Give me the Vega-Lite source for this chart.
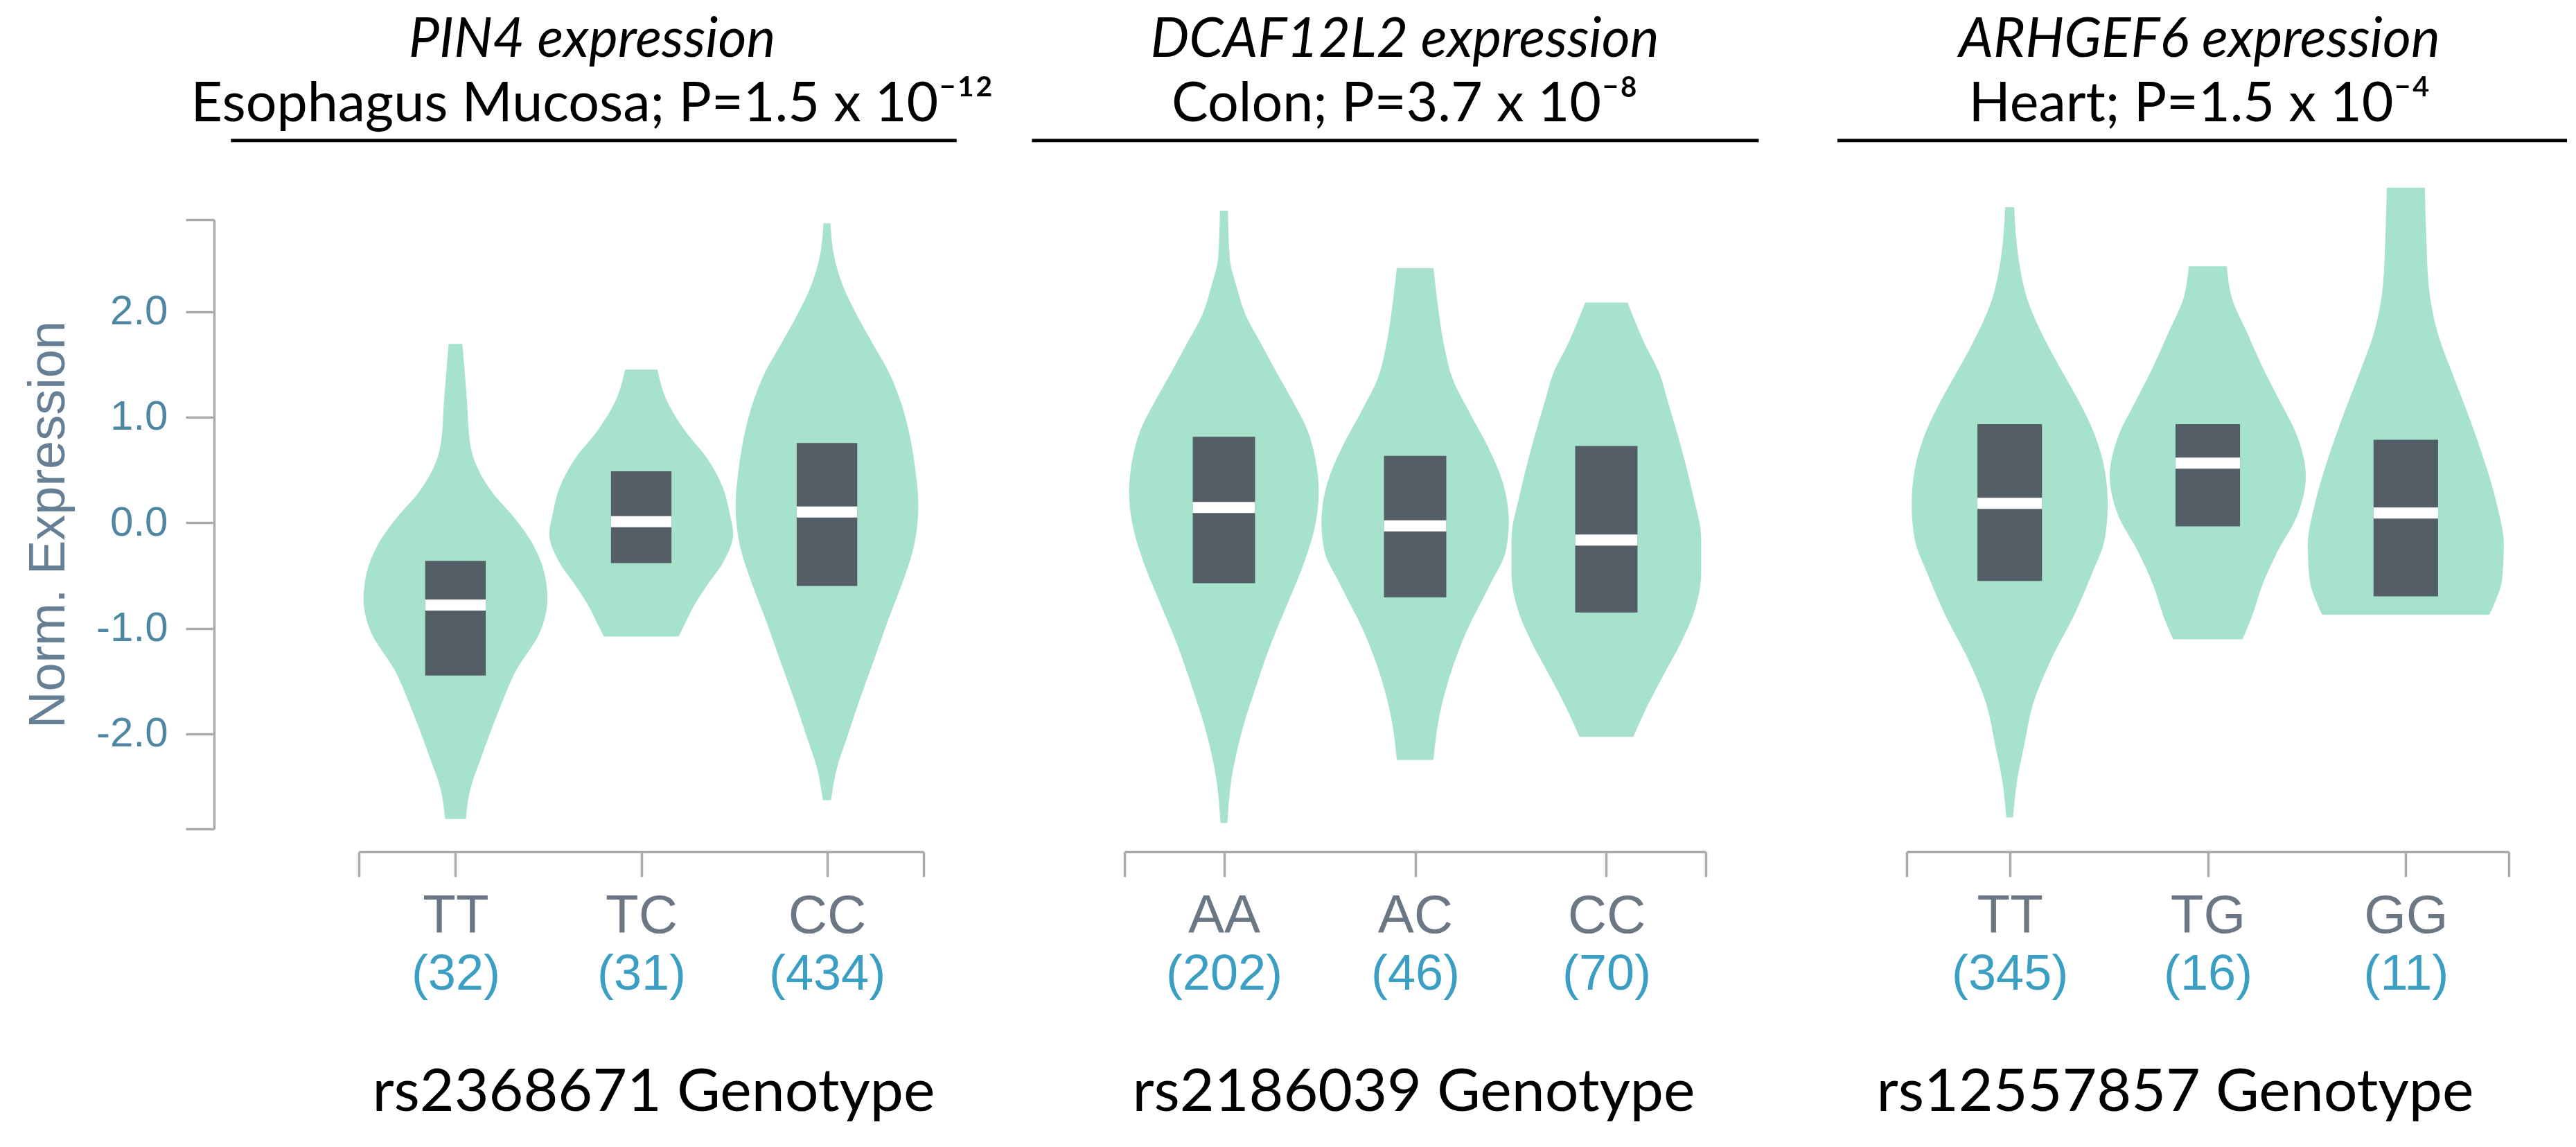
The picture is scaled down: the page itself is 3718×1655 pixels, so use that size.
{
  "$schema": "https://vega.github.io/schema/vega-lite/v6.json",
  "background": "white",
  "padding": {"left": 33, "top": 19, "right": 0, "bottom": 0},
  "autosize": {"type": "pad"},
  "bounds": "flush",
  "spacing": 290,
  "config": {"view": {"stroke": null}, "axis": {"grid": false}},
  "datasets": {
    "v1": [
      {"g":0,"v":1.694,"lo":-0.037,"hi":0.037},{"g":0,"v":1.151,"lo":-0.062,"hi":0.062},{"g":0,"v":0.770,"lo":-0.077,"hi":0.077},{"g":0,"v":0.498,"lo":-0.124,"hi":0.124},{"g":0,"v":0.281,"lo":-0.201,"hi":0.201},{"g":0,"v":0.063,"lo":-0.309,"hi":0.309},{"g":0,"v":-0.208,"lo":-0.418,"hi":0.418},{"g":0,"v":-0.480,"lo":-0.479,"hi":0.479},{"g":0,"v":-0.725,"lo":-0.495,"hi":0.495},{"g":0,"v":-1.024,"lo":-0.458,"hi":0.458},{"g":0,"v":-1.404,"lo":-0.325,"hi":0.325},{"g":0,"v":-1.785,"lo":-0.232,"hi":0.232},{"g":0,"v":-2.220,"lo":-0.139,"hi":0.139},{"g":0,"v":-2.546,"lo":-0.077,"hi":0.077},{"g":0,"v":-2.807,"lo":-0.056,"hi":0.056},
      {"g":1,"v":1.450,"lo":0.913,"hi":1.087},{"g":1,"v":1.151,"lo":0.861,"hi":1.139},{"g":1,"v":0.879,"lo":0.768,"hi":1.232},{"g":1,"v":0.607,"lo":0.644,"hi":1.356},{"g":1,"v":0.335,"lo":0.561,"hi":1.439},{"g":1,"v":0.063,"lo":0.521,"hi":1.479},{"g":1,"v":-0.100,"lo":0.505,"hi":1.495},{"g":1,"v":-0.372,"lo":0.558,"hi":1.442},{"g":1,"v":-0.589,"lo":0.644,"hi":1.356},{"g":1,"v":-0.806,"lo":0.722,"hi":1.278},{"g":1,"v":-0.970,"lo":0.768,"hi":1.232},{"g":1,"v":-1.078,"lo":0.799,"hi":1.201},
      {"g":2,"v":2.836,"lo":1.981,"hi":2.019},{"g":2,"v":2.510,"lo":1.960,"hi":2.040},{"g":2,"v":2.238,"lo":1.913,"hi":2.087},{"g":2,"v":1.966,"lo":1.839,"hi":2.161},{"g":2,"v":1.694,"lo":1.753,"hi":2.247},{"g":2,"v":1.422,"lo":1.666,"hi":2.334},{"g":2,"v":1.151,"lo":1.604,"hi":2.396},{"g":2,"v":0.879,"lo":1.561,"hi":2.439},{"g":2,"v":0.498,"lo":1.524,"hi":2.476},{"g":2,"v":0.172,"lo":1.508,"hi":2.492},{"g":2,"v":-0.208,"lo":1.530,"hi":2.470},{"g":2,"v":-0.480,"lo":1.576,"hi":2.424},{"g":2,"v":-0.915,"lo":1.669,"hi":2.331},{"g":2,"v":-1.296,"lo":1.746,"hi":2.254},{"g":2,"v":-1.676,"lo":1.824,"hi":2.176},{"g":2,"v":-2.002,"lo":1.886,"hi":2.114},{"g":2,"v":-2.329,"lo":1.947,"hi":2.053},{"g":2,"v":-2.628,"lo":1.978,"hi":2.022}
    ],
    "v2": [
      {"g":0,"v":2.955,"lo":-0.021,"hi":0.021},{"g":0,"v":2.510,"lo":-0.030,"hi":0.030},{"g":0,"v":2.238,"lo":-0.066,"hi":0.066},{"g":0,"v":1.966,"lo":-0.114,"hi":0.114},{"g":0,"v":1.694,"lo":-0.195,"hi":0.195},{"g":0,"v":1.422,"lo":-0.276,"hi":0.276},{"g":0,"v":1.151,"lo":-0.360,"hi":0.360},{"g":0,"v":0.879,"lo":-0.436,"hi":0.436},{"g":0,"v":0.607,"lo":-0.478,"hi":0.478},{"g":0,"v":0.281,"lo":-0.496,"hi":0.496},{"g":0,"v":-0.045,"lo":-0.475,"hi":0.475},{"g":0,"v":-0.371,"lo":-0.421,"hi":0.421},{"g":0,"v":-0.752,"lo":-0.336,"hi":0.336},{"g":0,"v":-1.133,"lo":-0.249,"hi":0.249},{"g":0,"v":-1.567,"lo":-0.165,"hi":0.165},{"g":0,"v":-2.002,"lo":-0.090,"hi":0.090},{"g":0,"v":-2.437,"lo":-0.039,"hi":0.039},{"g":0,"v":-2.845,"lo":-0.018,"hi":0.018},
      {"g":1,"v":2.412,"lo":0.904,"hi":1.096},{"g":1,"v":2.129,"lo":0.886,"hi":1.114},{"g":1,"v":1.694,"lo":0.850,"hi":1.150},{"g":1,"v":1.368,"lo":0.805,"hi":1.195},{"g":1,"v":1.042,"lo":0.715,"hi":1.285},{"g":1,"v":0.716,"lo":0.618,"hi":1.382},{"g":1,"v":0.390,"lo":0.543,"hi":1.457},{"g":1,"v":0.009,"lo":0.510,"hi":1.490},{"g":1,"v":-0.263,"lo":0.525,"hi":1.475},{"g":1,"v":-0.589,"lo":0.609,"hi":1.391},{"g":1,"v":-1.024,"lo":0.730,"hi":1.270},{"g":1,"v":-1.459,"lo":0.820,"hi":1.180},{"g":1,"v":-1.839,"lo":0.874,"hi":1.126},{"g":1,"v":-2.247,"lo":0.904,"hi":1.096},
      {"g":2,"v":2.086,"lo":1.889,"hi":2.111},{"g":2,"v":1.694,"lo":1.799,"hi":2.201},{"g":2,"v":1.422,"lo":1.724,"hi":2.276},{"g":2,"v":1.151,"lo":1.679,"hi":2.321},{"g":2,"v":0.716,"lo":1.609,"hi":2.391},{"g":2,"v":0.281,"lo":1.549,"hi":2.451},{"g":2,"v":-0.154,"lo":1.504,"hi":2.496},{"g":2,"v":-0.480,"lo":1.504,"hi":2.496},{"g":2,"v":-0.806,"lo":1.534,"hi":2.466},{"g":2,"v":-1.133,"lo":1.609,"hi":2.391},{"g":2,"v":-1.459,"lo":1.706,"hi":2.294},{"g":2,"v":-1.785,"lo":1.799,"hi":2.201},{"g":2,"v":-2.029,"lo":1.859,"hi":2.141}
    ],
    "v3": [
      {"g":0,"v":2.988,"lo":-0.023,"hi":0.023},{"g":0,"v":2.510,"lo":-0.044,"hi":0.044},{"g":0,"v":2.129,"lo":-0.087,"hi":0.087},{"g":0,"v":1.694,"lo":-0.189,"hi":0.189},{"g":0,"v":1.422,"lo":-0.268,"hi":0.268},{"g":0,"v":1.151,"lo":-0.349,"hi":0.349},{"g":0,"v":0.824,"lo":-0.431,"hi":0.431},{"g":0,"v":0.498,"lo":-0.480,"hi":0.480},{"g":0,"v":0.172,"lo":-0.495,"hi":0.495},{"g":0,"v":-0.154,"lo":-0.480,"hi":0.480},{"g":0,"v":-0.480,"lo":-0.416,"hi":0.416},{"g":0,"v":-0.861,"lo":-0.329,"hi":0.329},{"g":0,"v":-1.296,"lo":-0.209,"hi":0.209},{"g":0,"v":-1.730,"lo":-0.116,"hi":0.116},{"g":0,"v":-2.111,"lo":-0.073,"hi":0.073},{"g":0,"v":-2.437,"lo":-0.038,"hi":0.038},{"g":0,"v":-2.791,"lo":-0.017,"hi":0.017},
      {"g":1,"v":2.428,"lo":0.904,"hi":1.096},{"g":1,"v":2.129,"lo":0.878,"hi":1.122},{"g":1,"v":1.803,"lo":0.802,"hi":1.198},{"g":1,"v":1.477,"lo":0.724,"hi":1.276},{"g":1,"v":1.151,"lo":0.636,"hi":1.364},{"g":1,"v":0.824,"lo":0.549,"hi":1.451},{"g":1,"v":0.444,"lo":0.505,"hi":1.495},{"g":1,"v":0.063,"lo":0.549,"hi":1.451},{"g":1,"v":-0.263,"lo":0.645,"hi":1.355},{"g":1,"v":-0.589,"lo":0.724,"hi":1.276},{"g":1,"v":-0.915,"lo":0.782,"hi":1.218},{"g":1,"v":-1.105,"lo":0.825,"hi":1.175},
      {"g":2,"v":3.173,"lo":1.904,"hi":2.096},{"g":2,"v":2.781,"lo":1.898,"hi":2.102},{"g":2,"v":2.238,"lo":1.884,"hi":2.116},{"g":2,"v":1.803,"lo":1.840,"hi":2.160},{"g":2,"v":1.422,"lo":1.767,"hi":2.233},{"g":2,"v":1.042,"lo":1.689,"hi":2.311},{"g":2,"v":0.607,"lo":1.607,"hi":2.393},{"g":2,"v":0.172,"lo":1.540,"hi":2.460},{"g":2,"v":-0.208,"lo":1.505,"hi":2.495},{"g":2,"v":-0.535,"lo":1.514,"hi":2.486},{"g":2,"v":-0.752,"lo":1.549,"hi":2.451},{"g":2,"v":-0.872,"lo":1.578,"hi":2.422}
    ],
    "b1": [
      {"g":0,"q1":-1.448,"q3":-0.361,"med":-0.779,"bl":-0.163,"br":0.163},
      {"g":1,"q1":-0.382,"q3":0.487,"med":0.009,"bl":0.837,"br":1.163},
      {"g":2,"q1":-0.600,"q3":0.754,"med":0.101,"bl":1.837,"br":2.163}
    ],
    "b2": [
      {"g":0,"q1":-0.573,"q3":0.814,"med":0.145,"bl":-0.163,"br":0.163},
      {"g":1,"q1":-0.708,"q3":0.634,"med":-0.029,"bl":0.837,"br":1.163},
      {"g":2,"q1":-0.850,"q3":0.727,"med":-0.165,"bl":1.837,"br":2.163}
    ],
    "b3": [
      {"g":0,"q1":-0.551,"q3":0.933,"med":0.183,"bl":-0.163,"br":0.163},
      {"g":1,"q1":-0.034,"q3":0.933,"med":0.564,"bl":0.837,"br":1.163},
      {"g":2,"q1":-0.698,"q3":0.786,"med":0.091,"bl":1.837,"br":2.163}
    ]
  },
  "hconcat": [
    {
      "width": 815, "height": 879,
      "title": {"text": "PIN4 expression", "subtitle": "Esophagus Mucosa; P=1.5 x 10⁻¹²", "anchor": "middle", "frame": "group", "dx": -71, "offset": 8, "font": "Lato", "fontSize": 79, "fontStyle": "italic", "fontWeight": "normal", "color": "black", "subtitleFont": "Lato", "subtitleFontSize": 79, "subtitleColor": "black", "subtitlePadding": 14},
      "resolve": {"axis": {"x": "independent"}},
      "layer": [
        {"data": {"name": "v1"}, "mark": {"type": "area", "orient": "horizontal", "interpolate": "monotone", "color": "#a7e3cc"},
         "encoding": {
           "y": {"field": "v", "type": "quantitative", "scale": {"domain": [-2.9, 2.87], "nice": false, "zero": false},
                 "axis": {"orient": "left", "offset": 209, "title": "Norm. Expression", "values": [-2.9, -2, -1, 0, 1, 2, 2.87], "labelExpr": "abs(datum.value) > 2.5 ? '' : replace(format(datum.value, '.1f'), '\u2212', '-')", "domainColor": "#aaaaaa", "domainWidth": 3.5, "tickColor": "#aaaaaa", "tickWidth": 3.5, "tickSize": 41, "labelPadding": 26, "labelFont": "Liberation Sans", "labelFontSize": 60, "labelColor": "#4d87a3", "titleFont": "Liberation Sans", "titleFontSize": 74, "titleFontWeight": "normal", "titleColor": "#667f94", "titlePadding": 30, "grid": false, "labelOverlap": false, "labelBound": false, "labelFlush": false}},
           "x": {"field": "lo", "type": "quantitative", "stack": null, "scale": {"domain": [-0.52, 2.52], "nice": false, "zero": false},
                 "axis": {"orient": "bottom", "offset": 33, "values": [-0.52, 0, 1, 2, 2.52], "labelExpr": "datum.value == 0 ? 'TT' : datum.value == 1 ? 'TC' : datum.value == 2 ? 'CC' : ''", "domainColor": "#aaaaaa", "domainWidth": 3.5, "tickColor": "#aaaaaa", "tickWidth": 3.5, "tickSize": 36, "labelPadding": 18, "labelFont": "Liberation Sans", "labelFontSize": 78, "labelColor": "#6b7785", "title": null, "grid": false, "labelFlush": false, "labelOverlap": false, "labelBound": false}},
           "x2": {"field": "hi"},
           "detail": {"field": "g", "type": "nominal"}
         }},
        {"data": {"name": "b1"}, "mark": {"type": "rect", "color": "#545e66"},
         "encoding": {
           "x": {"field": "bl", "type": "quantitative",
                 "axis": {"orient": "bottom", "offset": 33, "values": [0, 1, 2], "labelExpr": "datum.value == 0 ? '(32)' : datum.value == 1 ? '(31)' : '(434)'", "domain": false, "ticks": false, "tickSize": 0, "labelPadding": 141, "labelFont": "Liberation Sans", "labelFontSize": 72, "labelColor": "#3a9fc2", "title": "rs2368671 Genotype", "titleFont": "Lato", "titleFontSize": 86, "titleFontWeight": "normal", "titleColor": "black", "titleX": 425, "titleY": 373, "titleBaseline": "alphabetic", "titleAlign": "center", "grid": false, "labelFlush": false, "labelOverlap": false, "labelBound": false}},
           "x2": {"field": "br"},
           "y": {"field": "q1", "type": "quantitative",
                 "axis": {"orient": "left", "offset": 209, "title": "Norm. Expression", "values": [-2.9, -2, -1, 0, 1, 2, 2.87], "labelExpr": "abs(datum.value) > 2.5 ? '' : replace(format(datum.value, '.1f'), '\u2212', '-')", "domainColor": "#aaaaaa", "domainWidth": 3.5, "tickColor": "#aaaaaa", "tickWidth": 3.5, "tickSize": 41, "labelPadding": 26, "labelFont": "Liberation Sans", "labelFontSize": 60, "labelColor": "#4d87a3", "titleFont": "Liberation Sans", "titleFontSize": 74, "titleFontWeight": "normal", "titleColor": "#667f94", "titlePadding": 30, "grid": false, "labelOverlap": false, "labelBound": false, "labelFlush": false}},
           "y2": {"field": "q3"}
         }},
        {"data": {"name": "b1"}, "mark": {"type": "rule", "color": "white", "strokeWidth": 16},
         "encoding": {
           "x": {"field": "bl", "type": "quantitative", "axis": null},
           "x2": {"field": "br"},
           "y": {"field": "med", "type": "quantitative",
                 "axis": {"orient": "left", "offset": 209, "title": "Norm. Expression", "values": [-2.9, -2, -1, 0, 1, 2, 2.87], "labelExpr": "abs(datum.value) > 2.5 ? '' : replace(format(datum.value, '.1f'), '\u2212', '-')", "domainColor": "#aaaaaa", "domainWidth": 3.5, "tickColor": "#aaaaaa", "tickWidth": 3.5, "tickSize": 41, "labelPadding": 26, "labelFont": "Liberation Sans", "labelFontSize": 60, "labelColor": "#4d87a3", "titleFont": "Liberation Sans", "titleFontSize": 74, "titleFontWeight": "normal", "titleColor": "#667f94", "titlePadding": 30, "grid": false, "labelOverlap": false, "labelBound": false, "labelFlush": false}}
         }},
        {"data": {"values": [{}]}, "mark": {"type": "rule", "color": "black", "strokeWidth": 5},
         "encoding": {
           "x": {"datum": -1.209, "type": "quantitative", "axis": null},
           "x2": {"datum": 2.698},
           "y": {"datum": 3.62, "type": "quantitative",
                 "axis": {"orient": "left", "offset": 209, "title": "Norm. Expression", "values": [-2.9, -2, -1, 0, 1, 2, 2.87], "labelExpr": "abs(datum.value) > 2.5 ? '' : replace(format(datum.value, '.1f'), '\u2212', '-')", "domainColor": "#aaaaaa", "domainWidth": 3.5, "tickColor": "#aaaaaa", "tickWidth": 3.5, "tickSize": 41, "labelPadding": 26, "labelFont": "Liberation Sans", "labelFontSize": 60, "labelColor": "#4d87a3", "titleFont": "Liberation Sans", "titleFontSize": 74, "titleFontWeight": "normal", "titleColor": "#667f94", "titlePadding": 30, "grid": false, "labelOverlap": false, "labelBound": false, "labelFlush": false}}
         }}
      ]
    },
    {
      "width": 839, "height": 879,
      "title": {"text": "DCAF12L2 expression", "subtitle": "Colon; P=3.7 x 10⁻⁸", "anchor": "middle", "frame": "group", "dx": -15, "offset": 8, "font": "Lato", "fontSize": 79, "fontStyle": "italic", "fontWeight": "normal", "color": "black", "subtitleFont": "Lato", "subtitleFontSize": 79, "subtitleColor": "black", "subtitlePadding": 14},
      "resolve": {"axis": {"x": "independent"}},
      "layer": [
        {"data": {"name": "v2"}, "mark": {"type": "area", "orient": "horizontal", "interpolate": "monotone", "color": "#a7e3cc"},
         "encoding": {
           "y": {"field": "v", "type": "quantitative", "scale": {"domain": [-2.9, 2.87], "nice": false, "zero": false}, "axis": null},
           "x": {"field": "lo", "type": "quantitative", "stack": null, "scale": {"domain": [-0.52, 2.52], "nice": false, "zero": false},
                 "axis": {"orient": "bottom", "offset": 33, "values": [-0.52, 0, 1, 2, 2.52], "labelExpr": "datum.value == 0 ? 'AA' : datum.value == 1 ? 'AC' : datum.value == 2 ? 'CC' : ''", "domainColor": "#aaaaaa", "domainWidth": 3.5, "tickColor": "#aaaaaa", "tickWidth": 3.5, "tickSize": 36, "labelPadding": 18, "labelFont": "Liberation Sans", "labelFontSize": 78, "labelColor": "#6b7785", "title": null, "grid": false, "labelFlush": false, "labelOverlap": false, "labelBound": false}},
           "x2": {"field": "hi"},
           "detail": {"field": "g", "type": "nominal"}
         }},
        {"data": {"name": "b2"}, "mark": {"type": "rect", "color": "#545e66"},
         "encoding": {
           "x": {"field": "bl", "type": "quantitative",
                 "axis": {"orient": "bottom", "offset": 33, "values": [0, 1, 2], "labelExpr": "datum.value == 0 ? '(202)' : datum.value == 1 ? '(46)' : '(70)'", "domain": false, "ticks": false, "tickSize": 0, "labelPadding": 141, "labelFont": "Liberation Sans", "labelFontSize": 72, "labelColor": "#3a9fc2", "title": "rs2186039 Genotype", "titleFont": "Lato", "titleFontSize": 86, "titleFontWeight": "normal", "titleColor": "black", "titleX": 417, "titleY": 373, "titleBaseline": "alphabetic", "titleAlign": "center", "grid": false, "labelFlush": false, "labelOverlap": false, "labelBound": false}},
           "x2": {"field": "br"},
           "y": {"field": "q1", "type": "quantitative", "axis": null},
           "y2": {"field": "q3"}
         }},
        {"data": {"name": "b2"}, "mark": {"type": "rule", "color": "white", "strokeWidth": 16},
         "encoding": {
           "x": {"field": "bl", "type": "quantitative", "axis": null},
           "x2": {"field": "br"},
           "y": {"field": "med", "type": "quantitative", "axis": null}
         }},
        {"data": {"values": [{}]}, "mark": {"type": "rule", "color": "black", "strokeWidth": 5},
         "encoding": {
           "x": {"datum": -1.004, "type": "quantitative", "axis": null},
           "x2": {"datum": 2.797},
           "y": {"datum": 3.62, "type": "quantitative", "axis": null}
         }}
      ]
    },
    {
      "width": 869, "height": 879,
      "title": {"text": "ARHGEF6 expression", "subtitle": "Heart; P=1.5 x 10⁻⁴", "anchor": "middle", "frame": "group", "dx": -12, "offset": 8, "font": "Lato", "fontSize": 79, "fontStyle": "italic", "fontWeight": "normal", "color": "black", "subtitleFont": "Lato", "subtitleFontSize": 79, "subtitleColor": "black", "subtitlePadding": 14},
      "resolve": {"axis": {"x": "independent"}},
      "layer": [
        {"data": {"name": "v3"}, "mark": {"type": "area", "orient": "horizontal", "interpolate": "monotone", "color": "#a7e3cc"},
         "encoding": {
           "y": {"field": "v", "type": "quantitative", "scale": {"domain": [-2.9, 2.87], "nice": false, "zero": false}, "axis": null},
           "x": {"field": "lo", "type": "quantitative", "stack": null, "scale": {"domain": [-0.52, 2.52], "nice": false, "zero": false},
                 "axis": {"orient": "bottom", "offset": 33, "values": [-0.52, 0, 1, 2, 2.52], "labelExpr": "datum.value == 0 ? 'TT' : datum.value == 1 ? 'TG' : datum.value == 2 ? 'GG' : ''", "domainColor": "#aaaaaa", "domainWidth": 3.5, "tickColor": "#aaaaaa", "tickWidth": 3.5, "tickSize": 36, "labelPadding": 18, "labelFont": "Liberation Sans", "labelFontSize": 78, "labelColor": "#6b7785", "title": null, "grid": false, "labelFlush": false, "labelOverlap": false, "labelBound": false}},
           "x2": {"field": "hi"},
           "detail": {"field": "g", "type": "nominal"}
         }},
        {"data": {"name": "b3"}, "mark": {"type": "rect", "color": "#545e66"},
         "encoding": {
           "x": {"field": "bl", "type": "quantitative",
                 "axis": {"orient": "bottom", "offset": 33, "values": [0, 1, 2], "labelExpr": "datum.value == 0 ? '(345)' : datum.value == 1 ? '(16)' : '(11)'", "domain": false, "ticks": false, "tickSize": 0, "labelPadding": 141, "labelFont": "Liberation Sans", "labelFontSize": 72, "labelColor": "#3a9fc2", "title": "rs12557857 Genotype", "titleFont": "Lato", "titleFontSize": 86, "titleFontWeight": "normal", "titleColor": "black", "titleX": 387, "titleY": 373, "titleBaseline": "alphabetic", "titleAlign": "center", "grid": false, "labelFlush": false, "labelOverlap": false, "labelBound": false}},
           "x2": {"field": "br"},
           "y": {"field": "q1", "type": "quantitative", "axis": null},
           "y2": {"field": "q3"}
         }},
        {"data": {"name": "b3"}, "mark": {"type": "rule", "color": "white", "strokeWidth": 16},
         "encoding": {
           "x": {"field": "bl", "type": "quantitative", "axis": null},
           "x2": {"field": "br"},
           "y": {"field": "med", "type": "quantitative", "axis": null}
         }},
        {"data": {"values": [{}]}, "mark": {"type": "rule", "color": "black", "strokeWidth": 5},
         "encoding": {
           "x": {"datum": -0.870, "type": "quantitative", "axis": null},
           "x2": {"datum": 2.814},
           "y": {"datum": 3.62, "type": "quantitative", "axis": null}
         }}
      ]
    }
  ]
}
